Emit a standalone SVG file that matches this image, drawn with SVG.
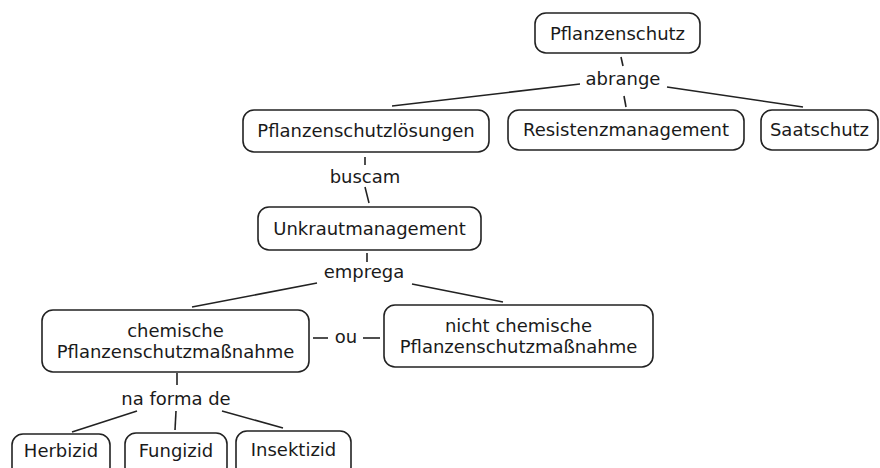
<svg xmlns="http://www.w3.org/2000/svg" width="880" height="468" viewBox="0 0 880 468">
<style>
.box{fill:#fff;stroke:#222;stroke-width:1.6}
.t{font-family:"DejaVu Sans",Verdana,sans-serif;font-size:18px;fill:#1a1a1a;text-anchor:middle}
.c line{stroke:#222;stroke-width:1.6}
</style>
<rect width="880" height="468" fill="#fff"/>
<g class="c" id="connectors">
<line x1="621" y1="57" x2="623" y2="66"/>
<line x1="580" y1="84" x2="392" y2="106"/>
<line x1="624" y1="96" x2="626" y2="107"/>
<line x1="667" y1="87" x2="803" y2="107"/>
<line x1="365" y1="157" x2="365" y2="165"/>
<line x1="365" y1="187" x2="369" y2="203"/>
<line x1="367" y1="253" x2="367" y2="262"/>
<line x1="317" y1="283" x2="192" y2="307"/>
<line x1="412" y1="284" x2="503" y2="302"/>
<line x1="313" y1="338" x2="328" y2="338"/>
<line x1="363" y1="338" x2="380" y2="338"/>
<line x1="177" y1="373" x2="177" y2="385"/>
<line x1="137" y1="411" x2="72" y2="432"/>
<line x1="176" y1="411" x2="175" y2="430"/>
<line x1="222" y1="411" x2="283" y2="428"/>
<text class="t" x="623" y="85">abrange</text>
<text class="t" x="365" y="183">buscam</text>
<text class="t" x="364" y="278">emprega</text>
<text class="t" x="346" y="343">ou</text>
<text class="t" x="176" y="405">na forma de</text>
</g>
<g id="n1"><rect class="box" x="535" y="13" width="165" height="40" rx="11"/><text class="t" x="617.5" y="40">Pflanzenschutz</text></g>
<g id="n2"><rect class="box" x="243" y="110" width="246" height="42" rx="11"/><text class="t" x="366" y="137">Pflanzenschutzlösungen</text></g>
<g id="n3"><rect class="box" x="508" y="110" width="236" height="40" rx="11"/><text class="t" x="626" y="136">Resistenzmanagement</text></g>
<g id="n4"><rect class="box" x="761" y="110" width="117" height="40" rx="11"/><text class="t" x="819.5" y="136">Saatschutz</text></g>
<g id="n5"><rect class="box" x="258" y="207" width="223" height="43" rx="11"/><text class="t" x="369.5" y="235">Unkrautmanagement</text></g>
<g id="n6"><rect class="box" x="42" y="310" width="267" height="62" rx="11"/><text class="t" x="175.5" y="337">chemische</text><text class="t" x="175.5" y="358">Pflanzenschutzmaßnahme</text></g>
<g id="n7"><rect class="box" x="384" y="305" width="269" height="62" rx="11"/><text class="t" x="518.5" y="332">nicht chemische</text><text class="t" x="518.5" y="353">Pflanzenschutzmaßnahme</text></g>
<g id="n8"><rect class="box" x="12" y="434" width="98" height="44" rx="11"/><text class="t" x="61" y="457">Herbizid</text></g>
<g id="n9"><rect class="box" x="125" y="433" width="102" height="45" rx="11"/><text class="t" x="176" y="457">Fungizid</text></g>
<g id="n10"><rect class="box" x="236" y="431" width="115" height="47" rx="11"/><text class="t" x="293.5" y="456">Insektizid</text></g>
</svg>
